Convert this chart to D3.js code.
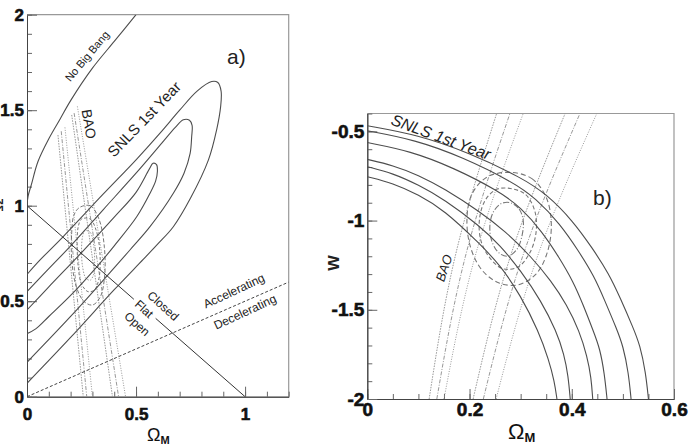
<!doctype html>
<html>
<head>
<meta charset="utf-8">
<script src="https://d3js.org/d3.v7.min.js"></script>
<style>
  body { margin: 0; background: #fff; }
  svg { font-family: "Liberation Sans", Arial, sans-serif; }
  .tick text { font-weight: bold; font-family: "Liberation Sans", Arial, sans-serif; }
</style>
</head>
<body>
<svg width="694" height="446"></svg>
<script>
// ---------- panel a) : Omega_M vs Omega_Lambda ----------
var aXTicks = [0, 0.5, 1];
var aYTicks = [0, 0.5, 1, 1.5, 2];

var noBigBang = [[0,1.0],[0.005,1.05],[0.02,1.11],[0.05,1.23],[0.1,1.35],[0.15,1.45],[0.2,1.55],[0.3,1.72],[0.4,1.86],[0.45,1.93],[0.5,2.0]];
var flatLine = [[[0,1],[0.49,0.51]], [[0.59,0.41],[1,0]]];
var accelLine = [[0,0],[1.2,0.6]];

var snlsA = [
  [[0,0.64],[0.06,0.716],[0.164,0.836],[0.349,1.06],[0.5,1.24],[0.61,1.38],[0.7,1.5],[0.78,1.6],[0.847,1.65],[0.875,1.645],[0.89,1.6],[0.888,1.52],[0.87,1.40],[0.832,1.24],[0.75,1.04],[0.671,0.89],[0.6,0.8],[0.534,0.72],[0.4,0.56],[0.2,0.31],[0,0.07]],
  [[0,0.55],[0.1,0.67],[0.2045,0.795],[0.35,0.98],[0.5,1.17],[0.62,1.33],[0.68,1.41],[0.717,1.45],[0.745,1.447],[0.757,1.42],[0.755,1.36],[0.748,1.274],[0.72,1.17],[0.671,1.065],[0.564,0.89],[0.472,0.768],[0.35,0.61],[0.2,0.42],[0,0.18]],
  [[0,0.454],[0.1,0.575],[0.248,0.752],[0.4,0.94],[0.5,1.07],[0.56,1.19],[0.578,1.222],[0.594,1.215],[0.598,1.18],[0.59,1.13],[0.564,1.065],[0.503,0.942],[0.4,0.79],[0.32,0.68],[0.2,0.53],[0.1,0.42],[0.04,0.355],[0,0.33]]
];

var baoA = [
  [[0.142,1.37],[0.258,0]],
  [[0.157,1.39],[0.274,0]],
  [[0.174,1.41],[0.30,0]],
  [[0.205,1.475],[0.392,0]],
  [[0.216,1.485],[0.42,0]],
  [[0.231,1.52],[0.452,0]]
];

var comboA = [
  [[0.265,0.87],[0.29,0.86],[0.305,0.80],[0.31,0.72],[0.305,0.64],[0.29,0.61],[0.27,0.62],[0.255,0.68],[0.25,0.77],[0.255,0.84]],
  [[0.25,0.93],[0.29,0.93],[0.32,0.86],[0.335,0.74],[0.33,0.62],[0.31,0.56],[0.28,0.55],[0.25,0.59],[0.235,0.68],[0.23,0.80],[0.235,0.89]],
  [[0.24,0.99],[0.29,1.0],[0.33,0.93],[0.355,0.78],[0.355,0.62],[0.335,0.52],[0.30,0.48],[0.26,0.50],[0.225,0.58],[0.205,0.72],[0.205,0.86],[0.215,0.95]]
];

// ---------- panel b) : Omega_M vs w ----------
var bXTicks = [0, 0.2, 0.4, 0.6];
var bYTicks = [-2, -1.5, -1, -0.5];

var snlsB = [
  [[0,-0.469],[0.099,-0.52],[0.198,-0.619],[0.3025,-0.76],[0.352,-0.855],[0.4015,-1.0],[0.44,-1.153],[0.473,-1.3],[0.495,-1.435],[0.52,-1.6],[0.5335,-1.698],[0.5445,-1.85],[0.55,-2.0]],
  [[0,-0.497],[0.093,-0.547],[0.186,-0.644],[0.284,-0.783],[0.33,-0.876],[0.377,-1.019],[0.413,-1.169],[0.444,-1.313],[0.464,-1.445],[0.488,-1.608],[0.5005,-1.704],[0.511,-1.853],[0.516,-2.0]],
  [[0,-0.563],[0.084,-0.61],[0.169,-0.704],[0.258,-0.836],[0.3,-0.925],[0.342,-1.062],[0.375,-1.205],[0.403,-1.343],[0.422,-1.47],[0.443,-1.625],[0.455,-1.717],[0.464,-1.859],[0.469,-2.0]],
  [[0,-0.657],[0.05,-0.69],[0.1,-0.745],[0.15,-0.82],[0.22,-0.95],[0.27,-1.06],[0.32,-1.2],[0.36,-1.34],[0.39,-1.47],[0.415,-1.62],[0.43,-1.76],[0.438,-1.88],[0.441,-2.0]],
  [[0,-0.698],[0.05,-0.735],[0.1,-0.8],[0.15,-0.88],[0.22,-1.03],[0.26,-1.14],[0.3,-1.28],[0.34,-1.45],[0.37,-1.62],[0.385,-1.75],[0.393,-1.87],[0.397,-2.0]],
  [[0,-0.754],[0.05,-0.79],[0.1,-0.855],[0.15,-0.94],[0.22,-1.13],[0.26,-1.25],[0.3,-1.42],[0.335,-1.62],[0.355,-1.78],[0.366,-1.9],[0.371,-2.0]]
];

var baoB = [
  [[0.121,-2],[0.172,-1.2],[0.253,-0.4]],
  [[0.136,-2],[0.192,-1.2],[0.279,-0.4]],
  [[0.150,-2],[0.211,-1.2],[0.305,-0.4]],
  [[0.207,-2],[0.28,-1.2],[0.387,-0.4]],
  [[0.227,-2],[0.304,-1.2],[0.416,-0.4]],
  [[0.252,-2],[0.333,-1.2],[0.449,-0.4]]
];

var comboB = [
  [[0.28,-0.9],[0.297,-0.935],[0.305,-1.0],[0.303,-1.08],[0.293,-1.16],[0.275,-1.2],[0.257,-1.18],[0.243,-1.11],[0.24,-1.02],[0.247,-0.95],[0.262,-0.905]],
  [[0.28,-0.82],[0.31,-0.855],[0.328,-0.95],[0.33,-1.07],[0.318,-1.18],[0.295,-1.26],[0.265,-1.27],[0.24,-1.21],[0.222,-1.11],[0.22,-0.98],[0.232,-0.88],[0.253,-0.825]],
  [[0.28,-0.73],[0.322,-0.765],[0.35,-0.87],[0.36,-1.02],[0.352,-1.18],[0.33,-1.3],[0.295,-1.36],[0.258,-1.35],[0.225,-1.28],[0.202,-1.15],[0.195,-0.99],[0.205,-0.85],[0.235,-0.755]]
];

var svg = d3.select("svg");

var aX = d3.scaleLinear().domain([0, 1.2]).range([27, 288.7]);
var aY = d3.scaleLinear().domain([0, 2]).range([396.7, 14.7]);
var bX = d3.scaleLinear().domain([0, 0.6]).range([367.3, 674]);
var bY = d3.scaleLinear().domain([-2, -0.4]).range([399, 113.5]);

// plain hyphen for negative labels, like the original plot
function fmt(d) { return String(+d.toFixed(2)); }

function panel(id, x, y, xMajor, xMinorStep, yMajor, yMinorStep, fs, xPad) {
  var g = svg.append("g");
  var x0 = x.range()[0], x1 = x.range()[1], y0 = y.range()[0], y1 = y.range()[1];

  svg.append("clipPath").attr("id", id)
    .append("rect").attr("x", x0).attr("y", y1).attr("width", x1 - x0).attr("height", y0 - y1);

  // frame (top / right)
  g.append("path")
    .attr("d", "M" + x0 + "," + y1 + "H" + x1 + "V" + y0)
    .attr("fill", "none").attr("stroke", "#999").attr("stroke-width", 1.2);

  var xd = x.domain(), yd = y.domain();
  var xMinor = d3.range(xd[0], xd[1] + 1e-9, xMinorStep);
  var yMinor = d3.range(yd[0], yd[1] + 1e-9, yMinorStep);

  var gx = g.append("g").attr("transform", "translate(0," + y0 + ")");
  gx.append("g").call(d3.axisBottom(x).tickValues(xMinor).tickSize(-5).tickSizeOuter(0).tickFormat(""));
  gx.append("g").call(d3.axisBottom(x).tickValues(xMajor).tickSize(-10).tickSizeOuter(0).tickPadding(xPad).tickFormat(fmt));

  var gy = g.append("g").attr("transform", "translate(" + x0 + ",0)");
  gy.append("g").call(d3.axisLeft(y).tickValues(yMinor).tickSize(-5).tickSizeOuter(0).tickFormat(""));
  gy.append("g").call(d3.axisLeft(y).tickValues(yMajor).tickSize(-10).tickSizeOuter(0).tickPadding(3).tickFormat(fmt));

  g.selectAll(".domain").attr("stroke", "#444");
  g.selectAll(".tick line").attr("stroke", "#666");
  g.selectAll(".tick text").style("font-size", fs + "px").style("font-weight", "bold")
    .attr("fill", "#111").attr("stroke", "#111").attr("stroke-width", 0.6);

  return svg.append("g").attr("clip-path", "url(#" + id + ")");
}

var pa = panel("clipA", aX, aY, aXTicks, 0.1, aYTicks, 0.1, 17, 11);
var pb = panel("clipB", bX, bY, bXTicks, 0.05, bYTicks, 0.1, 19, 4);

var lineA = d3.line().x(function(d) { return aX(d[0]); }).y(function(d) { return aY(d[1]); });
var lineB = d3.line().x(function(d) { return bX(d[0]); }).y(function(d) { return bY(d[1]); });
var dashes = ["1.5,1.2", "4,1.5,1,1.5", "1,1.5"];

// panel a marks
pa.selectAll(".bao").data(baoA).enter().append("path")
  .attr("d", lineA).attr("fill", "none").attr("stroke", "#8c8c8c").attr("stroke-width", 0.9)
  .attr("stroke-dasharray", function(d, i) { return dashes[i % 3]; });

pa.selectAll(".combo").data(comboA).enter().append("path")
  .attr("d", lineA.curve(d3.curveCatmullRomClosed)).attr("fill", "none")
  .attr("stroke", function(d, i) { return i == 0 ? "#999" : "#777"; }).attr("stroke-width", 1)
  .attr("stroke-dasharray", function(d, i) { return ["1.5,1.5", "3,2", "4,2"][i]; });

lineA.curve(d3.curveCatmullRom);
pa.selectAll(".snls").data(snlsA).enter().append("path")
  .attr("d", lineA).attr("fill", "none").attr("stroke", "#4d4d4d").attr("stroke-width", 1.1);

pa.append("path").datum(noBigBang).attr("d", lineA)
  .attr("fill", "none").attr("stroke", "#4d4d4d").attr("stroke-width", 1.1);

lineA.curve(d3.curveLinear);
pa.selectAll(".flat").data(flatLine).enter().append("path")
  .attr("d", lineA).attr("fill", "none").attr("stroke", "#333").attr("stroke-width", 1);
pa.append("path").datum(accelLine).attr("d", lineA)
  .attr("fill", "none").attr("stroke", "#444").attr("stroke-width", 1).attr("stroke-dasharray", "3,2");

// panel b marks
lineB.curve(d3.curveNatural);
pb.selectAll(".bao").data(baoB).enter().append("path")
  .attr("d", lineB).attr("fill", "none").attr("stroke", "#8c8c8c").attr("stroke-width", 0.9)
  .attr("stroke-dasharray", function(d, i) { return dashes[i % 3]; });

pb.selectAll(".combo").data(comboB).enter().append("path")
  .attr("d", lineB.curve(d3.curveCatmullRomClosed)).attr("fill", "none")
  .attr("stroke", "#777").attr("stroke-width", 1.1)
  .attr("stroke-dasharray", function(d, i) { return ["6,2,1,2", "4,2.5", "5,3"][i]; });

lineB.curve(d3.curveBasis);
pb.selectAll(".snls").data(snlsB).enter().append("path")
  .attr("d", lineB).attr("fill", "none").attr("stroke", "#4d4d4d").attr("stroke-width", 1.1);

// text labels
function label(txt, x, y, rot, size, opts) {
  opts = opts || {};
  return svg.append("text")
    .attr("transform", "translate(" + x + "," + y + ") rotate(" + rot + ")")
    .attr("text-anchor", opts.anchor || "middle")
    .attr("dominant-baseline", opts.baseline || "central")
    .attr("font-size", size)
    .attr("font-style", opts.italic ? "italic" : "normal")
    .attr("font-weight", opts.bold ? "bold" : "normal")
    .attr("fill", "#222")
    .text(txt);
}

label("No Big Bang", 87, 56, -50, 11);
label("a)", 227, 64, 0, 21, {anchor: "start", baseline: "auto"});
label("SNLS 1st Year", 144, 119, -46, 15);
label("BAO", 89, 124, 80, 14);
label("Closed", 163, 306, 42, 12);
label("Flat", 144, 309, 42, 12);
label("Open", 137, 324, 42, 12);
label("Accelerating", 234, 291, -25, 12);
label("Decelerating", 245, 312, -25, 12);

label("SNLS 1st Year", 441, 137, 20, 16, {italic: true});
label("b)", 593, 205, 0, 21, {anchor: "start", baseline: "auto"});
label("BAO", 444, 268, -72, 13, {italic: true});

// axis titles
function omegaM(x, y, size, sub) {
  var t = svg.append("text").attr("x", x).attr("y", y).attr("font-size", size).attr("fill", "#111");
  t.append("tspan").text("\u03A9");
  t.append("tspan").attr("font-size", sub).attr("font-weight", "bold").attr("dy", 3).text("M");
}
omegaM(147, 441, 18, 11);
omegaM(508, 439, 22, 13);

label("w", 332, 263, -90, 20, {bold: true});
label("\u03A9", 3, 205, -90, 18, {baseline: "auto"});
</script>
</body>
</html>
